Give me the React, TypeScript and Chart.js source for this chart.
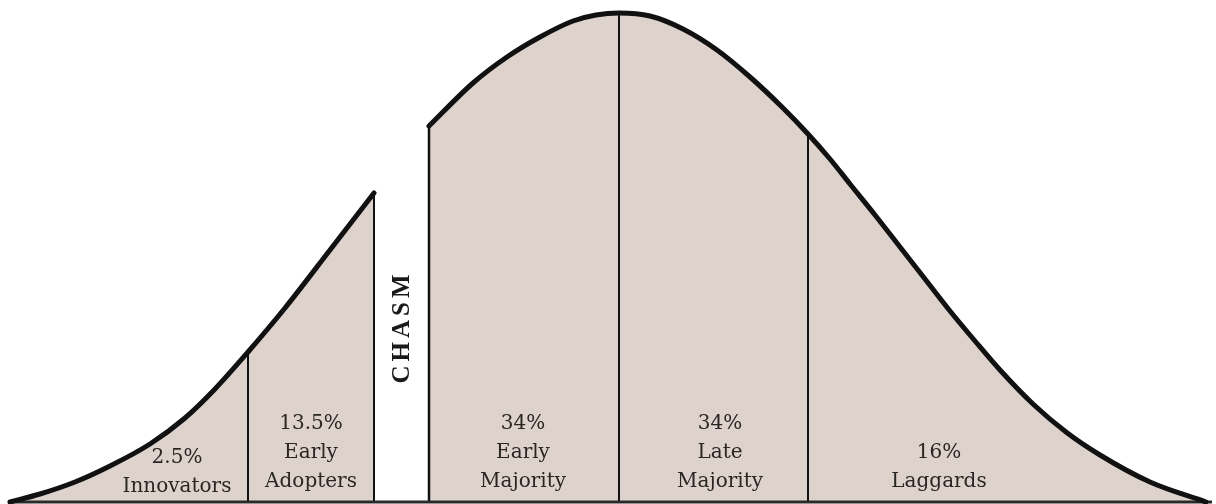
import React, { useEffect, useRef } from "react";
import { Chart, registerables } from "chart.js";

Chart.register(...registerables);

// Technology adoption life cycle (x: position along the adoption timeline, y: relative adoption density)
const leftCurveX = [10, 40, 75, 110, 150, 185, 215, 248, 285, 330, 374];
const leftCurveY = [0, 8, 20, 36, 58, 84, 113, 150, 194, 252, 309];
const rightCurveX = [429, 473, 507, 540, 573, 596, 619, 650, 683, 717, 750, 783, 808, 830, 850, 875, 900, 925, 950, 975, 1000, 1033, 1066, 1100, 1150, 1206];
const rightCurveY = [376, 419, 445, 465, 481, 487, 489, 486, 473, 452, 425, 394, 368, 343, 318, 287, 255, 223, 191, 161, 132, 98, 70, 47, 20, 0];

// Segment boundaries (vertical dividers)
const dividerX = [248, 374, 429, 619, 808];

// Segment labels
const segmentPercents = ["2.5%", "13.5%", "34%", "34%", "16%"];
const segmentNames = [["Innovators"], ["Early", "Adopters"], ["Early", "Majority"], ["Late", "Majority"], ["Laggards"]];
const segmentLabelX = [177, 311, 523, 720, 939];
const chasmLabel = "CHASM";

const FILL = "#ded2cc";
const INK = "#111111";
const TEXT = "#2a2624";

function curveHeightAt(x: number): number {
  const i = leftCurveX.indexOf(x);
  if (i >= 0) return leftCurveY[i];
  const j = rightCurveX.indexOf(x);
  return j >= 0 ? rightCurveY[j] : 0;
}

const toPoints = (xs: number[], ys: number[]) => xs.map((x, i) => ({ x, y: ys[i] }));

const labelPlugin = {
  id: "adoptionLabels",
  afterDatasetsDraw(chart: any) {
    const ctx: CanvasRenderingContext2D = chart.ctx;
    const xs = chart.scales.x;
    const ys = chart.scales.y;
    ctx.save();
    ctx.fillStyle = TEXT;
    ctx.font = "20px 'DejaVu Serif'";
    ctx.textAlign = "center";
    ctx.textBaseline = "alphabetic";
    const lineGap = 29;
    segmentPercents.forEach((pct, i) => {
      const lines = [pct, ...segmentNames[i]];
      const bottomOffset = i === 0 ? 10 : 15;
      const cx = xs.getPixelForValue(segmentLabelX[i]);
      const baseY = ys.getPixelForValue(bottomOffset);
      lines.forEach((t, k) => {
        const y = baseY - (lines.length - 1 - k) * lineGap;
        ctx.fillText(t, cx, y);
      });
    });

    // Rotated CHASM label
    const cx = (xs.getPixelForValue(dividerX[1]) + xs.getPixelForValue(dividerX[2])) / 2 - 1;
    const cy = ys.getPixelForValue(173);
    ctx.translate(cx, cy);
    ctx.rotate(-Math.PI / 2);
    ctx.font = "bold 25px 'Liberation Serif'";
    ctx.fillStyle = "#1a1a1a";
    ctx.textAlign = "left";
    const gap = 4;
    const letters = chasmLabel.split("");
    const widths = letters.map((l) => ctx.measureText(l).width);
    const total = widths.reduce((a, b) => a + b, 0) + gap * (letters.length - 1);
    let px = -total / 2;
    letters.forEach((l, i) => {
      ctx.fillText(l, px, 8.5);
      px += widths[i] + gap;
    });
    ctx.restore();
  },
};

export default function App() {
  const canvasRef = useRef<HTMLCanvasElement | null>(null);

  useEffect(() => {
    if (!canvasRef.current) return;
    const curveLine = {
      borderColor: INK,
      borderWidth: 5,
      fill: false,
      pointRadius: 0,
      cubicInterpolationMode: "monotone" as const,
      borderJoinStyle: "miter" as const,
      borderCapStyle: "round" as const,
      order: 0,
    };
    const curveFill = {
      borderWidth: 0,
      borderColor: "rgba(0,0,0,0)",
      backgroundColor: FILL,
      fill: "origin" as const,
      pointRadius: 0,
      cubicInterpolationMode: "monotone" as const,
      order: 3,
    };
    const dividers = dividerX.map((x, i) => ({
      data: [
        { x, y: 0 },
        { x, y: curveHeightAt(x) },
      ],
      borderColor: INK,
      borderWidth: i === 2 ? 2.5 : 2,
      pointRadius: 0,
      fill: false,
      order: 2,
    }));
    const chart = new Chart(canvasRef.current, {
      type: "line",
      data: {
        datasets: [
          { ...curveLine, data: toPoints(leftCurveX, leftCurveY) },
          { ...curveLine, data: toPoints(rightCurveX, rightCurveY) },
          {
            data: [
              { x: 8, y: 0 },
              { x: 1212, y: 0 },
            ],
            borderColor: "#2a2a2a",
            borderWidth: 3,
            pointRadius: 0,
            fill: false,
            order: 1,
          },
          ...dividers,
          { ...curveFill, data: toPoints(leftCurveX, leftCurveY) },
          { ...curveFill, data: toPoints(rightCurveX, rightCurveY) },
        ] as any,
      },
      options: {
        animation: false,
        responsive: false,
        devicePixelRatio: 1,
        layout: { padding: 0 },
        events: [],
        scales: {
          x: { type: "linear", min: 0, max: 1216, display: false },
          y: { type: "linear", min: -2, max: 502, display: false },
        },
        plugins: {
          legend: { display: false },
          tooltip: { enabled: false },
        },
      },
      plugins: [labelPlugin],
    });
    return () => chart.destroy();
  }, []);

  return (
    <div style={{ position: "absolute", left: 0, top: 0, width: 1216, height: 504, background: "#ffffff" }}>
      <canvas ref={canvasRef} width={1216} height={504} />
    </div>
  );
}
